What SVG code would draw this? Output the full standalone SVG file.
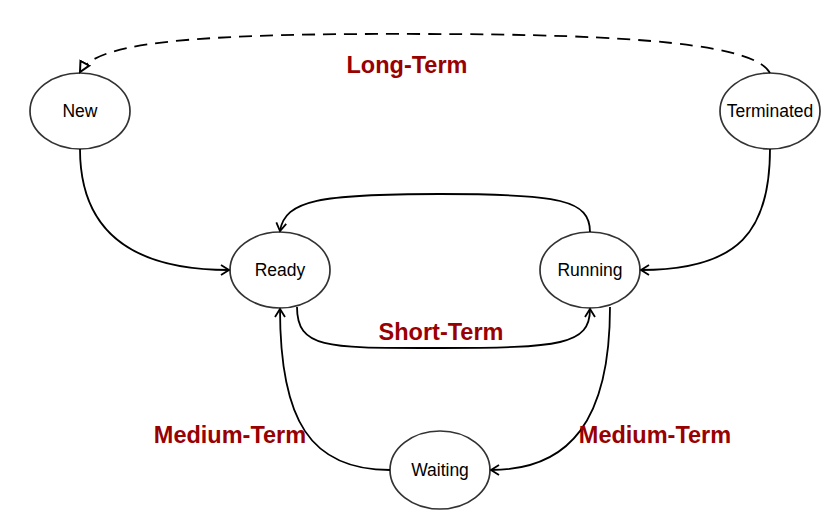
<svg xmlns="http://www.w3.org/2000/svg" width="840" height="529" viewBox="0 0 840 529">
<defs>
<style>
.node ellipse{fill:#ffffff;stroke:#333333;stroke-width:1.7}
.node text{font-family:"Liberation Sans",Arial,Helvetica,sans-serif;font-size:17.5px;fill:#000000;text-anchor:middle}
.edge{fill:none;stroke:#000000;stroke-width:1.8}
.lbl{font-family:"Liberation Sans",Arial,Helvetica,sans-serif;font-size:23.5px;font-weight:bold;fill:#990000;text-anchor:middle}
</style>
<marker id="vee" markerUnits="userSpaceOnUse" markerWidth="14" markerHeight="14" refX="10" refY="6" orient="auto" viewBox="0 0 14 12">
<path d="M2,1 L10,6 L2,11" fill="none" stroke="#000000" stroke-width="1.8"/>
</marker>
<marker id="tri" markerUnits="userSpaceOnUse" markerWidth="14" markerHeight="14" refX="11" refY="6" orient="auto" viewBox="0 0 14 12">
<path d="M1,1 L11,6 L1,11 Z" fill="#ffffff" stroke="#000000" stroke-width="2"/>
</marker>
</defs>
<rect width="840" height="529" fill="#ffffff"/>
<g id="node-new" class="node"><ellipse cx="80" cy="111" rx="50" ry="38"/><text x="80" y="117">New</text></g>
<g id="node-terminated" class="node"><ellipse cx="770" cy="111" rx="50" ry="38"/><text x="770" y="117">Terminated</text></g>
<g id="node-ready" class="node"><ellipse cx="280" cy="270" rx="50" ry="38"/><text x="280" y="276">Ready</text></g>
<g id="node-running" class="node"><ellipse cx="590" cy="270" rx="50" ry="38"/><text x="590" y="276">Running</text></g>
<g id="node-waiting" class="node"><ellipse cx="440" cy="470" rx="50" ry="39"/><text x="440" y="476">Waiting</text></g>
<g id="connectors">
<path class="edge" d="M80,149 C80,230 130,270 229,270" marker-end="url(#vee)"/>
<path class="edge" d="M770,149 C770,230 740,270 641,270" marker-end="url(#vee)"/>
<path class="edge" d="M590,232 C590,200 560,194 440,194 C320,194 285,200 280,231" marker-end="url(#vee)"/>
<path class="edge" d="M297,307 C297,350 330,348 440,348 C560,348 590,345 590,309" marker-end="url(#vee)"/>
<path class="edge" d="M610,307 C610,420 570,470 491,470" marker-end="url(#vee)"/>
<path class="edge" d="M390,470 C310,470 280,420 280,309" marker-end="url(#vee)"/>
<path class="edge" d="M770,73 C755,45 640,34 420,34 C170,33 95,45 80,72" stroke-dasharray="13 8" marker-end="url(#tri)"/>
</g>
<g id="labels">
<text class="lbl" x="407" y="73">Long-Term</text>
<text class="lbl" x="441" y="340">Short-Term</text>
<text class="lbl" x="230" y="443">Medium-Term</text>
<text class="lbl" x="655" y="443">Medium-Term</text>
</g>
</svg>
